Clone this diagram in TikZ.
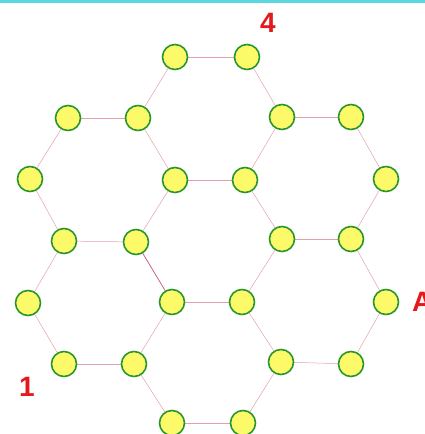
\documentclass[tikz,border=0pt]{standalone}
\usepackage{fontspec}
\setmainfont{Liberation Sans}
\definecolor{nodefill}{RGB}{252,250,105}
\definecolor{nodeedge}{RGB}{40,150,45}
\definecolor{linkcol}{RGB}{228,160,170}
\definecolor{labred}{RGB}{228,25,30}
\definecolor{topcyan}{RGB}{90,215,225}
\begin{document}
\begin{tikzpicture}[x=1pt,y=-1pt,
  dot/.style={circle,draw=nodeedge,fill=nodefill,line width=1.6pt,minimum size=25pt,inner sep=0pt},
  link/.style={draw=linkcol,line width=0.5pt},
  lab/.style={text=labred,font=\bfseries\fontsize{28}{28}\selectfont,inner sep=0pt}]
\useasboundingbox (0,0) rectangle (425,434);
\fill[topcyan] (0,0) rectangle (425,3);
% nodes
\coordinate (p1) at (175,57);  \coordinate (p2) at (247,57);
\coordinate (p3) at (68,118);  \coordinate (p4) at (138,118);
\coordinate (p5) at (282,117); \coordinate (p6) at (351,117);
\coordinate (p7) at (30,179);  \coordinate (p8) at (175,180);
\coordinate (p9) at (245,180); \coordinate (p10) at (386,179);
\coordinate (p11) at (64,241); \coordinate (p12) at (136,242);
\coordinate (p13) at (282,239);\coordinate (p14) at (351,239);
\coordinate (p15) at (28,303); \coordinate (p16) at (172,302);
\coordinate (p17) at (242,302);\coordinate (p18) at (386,302);
\coordinate (p19) at (64,364); \coordinate (p20) at (134,364);
\coordinate (p21) at (281,362);\coordinate (p22) at (351,364);
\coordinate (p23) at (172,423);\coordinate (p24) at (243,423);
% edges
\foreach \a/\b in {p1/p2,p2/p5,p5/p9,p9/p8,p8/p4,p4/p1,
  p3/p4,p3/p7,p7/p11,p11/p12,p12/p8,
  p5/p6,p6/p10,p10/p14,p14/p13,p13/p9,
  p13/p17,p17/p16,p16/p12,
  p11/p15,p15/p19,p19/p20,p20/p16,
  p14/p18,p18/p22,p22/p21,p21/p17,
  p20/p23,p23/p24,p24/p21}
  \draw[link] (\a) -- (\b);
\draw[draw={rgb,255:red,200;green,90;blue,120},line width=0.6pt] (p12) -- (p16);
\foreach \i in {1,...,24}
  \node[dot] (n\i) at (p\i) {};
% labels
\node[lab] (l4) at (268,23) {4};
\node[lab,anchor=west] (lA) at (412,302) {A};
\node[lab] (l1) at (27,387) {1};
\end{tikzpicture}
\end{document}
